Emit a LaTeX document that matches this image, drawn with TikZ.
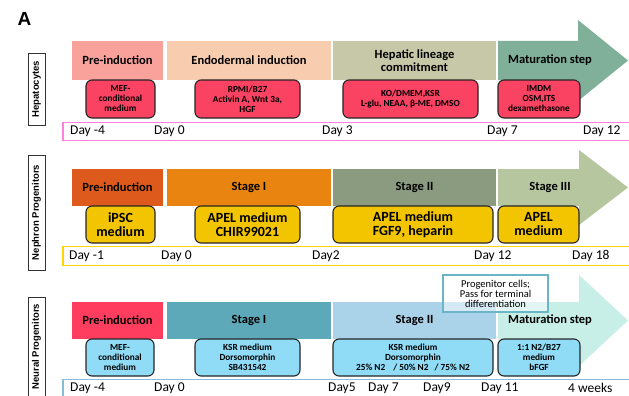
\documentclass[tikz,border=0pt]{standalone}
\usepackage{fontspec}
\setmainfont{Carlito}
\newfontfamily\arialf{Liberation Sans}
\definecolor{hA}{HTML}{F9A19B}
\definecolor{hB}{HTML}{F8CCAE}
\definecolor{hC}{HTML}{C7C8A8}
\definecolor{hD}{HTML}{80B09A}
\definecolor{hbox}{HTML}{FA4262}
\definecolor{hline}{HTML}{FF80DF}
\definecolor{nA}{HTML}{DE5A1C}
\definecolor{nB}{HTML}{E8840F}
\definecolor{nC}{HTML}{8B9B80}
\definecolor{nD}{HTML}{B6C69E}
\definecolor{nbox}{HTML}{F2C500}
\definecolor{nline}{HTML}{F8D800}
\definecolor{rA}{HTML}{FF3E5F}
\definecolor{rB}{HTML}{5DA8B9}
\definecolor{rC}{HTML}{AAD3E9}
\definecolor{rD}{HTML}{C8EEE8}
\definecolor{rbox}{HTML}{90DCF6}
\definecolor{rline}{HTML}{86BED6}
\definecolor{prog}{HTML}{6AB5C6}
\begin{document}
\begin{tikzpicture}[x=1pt,y=-1pt,
  bar/.style={inner sep=0pt, outer sep=0pt, align=center, font=\fontsize{12.5}{13.5}\selectfont\bfseries},
  medbox/.style={draw=black!85, line width=1.1pt, rounded corners=6pt, inner sep=0pt, align=center},
  smalltxt/.style={font=\fontsize{9.3}{10}\selectfont\bfseries},
  bigtxt/.style={font=\fontsize{14}{14}\selectfont\bfseries},
  day/.style={anchor=west, inner sep=0pt, font=\fontsize{13.5}{14}\selectfont},
  sidetxt/.style={rotate=90, inner sep=0pt, font=\arialf\fontsize{9.5}{10}\selectfont\bfseries},
  side/.style={sidetxt, draw=black!80, line width=0.8pt, minimum height=17pt},
  tline/.style={line width=1.6pt},
]
\useasboundingbox (0,0) rectangle (629,396);
\clip (0,0) rectangle (629,396);
\fill[white] (0,0) rectangle (629,396);

\node[font=\arialf\fontsize{19}{19}\selectfont\bfseries, anchor=north west, inner sep=0pt] (lblA) at (17.5,12) {A};

% ---------------- Row 1: Hepatocytes ----------------
\node[side, minimum width=72pt] (s1) at (36.5,89) {Hepatocytes};
\node[bar, fill=hA, minimum width=91pt, minimum height=39pt] (h1) at (117.5,60.5) {Pre-induction};
\node[bar, fill=hB, minimum width=164pt, minimum height=39pt] (h2) at (249,60.5) {Endodermal induction};
\node[bar, fill=hC, minimum width=163pt, minimum height=39pt] (h3) at (414.5,60.5) {Hepatic lineage\\commitment};
\fill[hD] (498,41) -- (578,41) -- (578,20) -- (628,60.5) -- (578,101) -- (578,80) -- (498,80) -- cycle;
\node[bar] (h4) at (550,60.5) {Maturation step};

\node[medbox, smalltxt, fill=hbox, minimum width=69pt, minimum height=38pt] (hb1) at (120.5,99) {MEF-\\conditional\\medium};
\node[medbox, smalltxt, fill=hbox, minimum width=105pt, minimum height=38pt] (hb2) at (247.5,99) {RPMI/B27\\Activin A, Wnt 3a,\\HGF};
\node[medbox, smalltxt, fill=hbox, minimum width=135pt, minimum height=38pt] (hb3) at (410.5,99) {KO/DMEM,KSR\\L-glu, NEAA, β-ME, DMSO};
\node[medbox, smalltxt, fill=hbox, minimum width=82pt, minimum height=38pt] (hb4) at (539,99) {IMDM\\OSM,ITS\\dexamethasone};

\draw[tline, hline] (63,122.5) rectangle (660,140.5);
\node[day] (hd1) at (70,131.5) {Day -4};
\node[day] (hd2) at (154,131.5) {Day 0};
\node[day] (hd3) at (322,131.5) {Day 3};
\node[day] (hd4) at (487,131.5) {Day 7};
\node[day] (hd5) at (583,131.5) {Day 12};

% ---------------- Row 2: Nephron Progenitors ----------------
\node[side, minimum width=115pt] (s2) at (36.5,212.5) {Nephron Progenitors};
\node[bar, fill=nA, minimum width=91pt, minimum height=37pt] (n1) at (117.5,187.5) {Pre-induction};
\node[bar, fill=nB, minimum width=164pt, minimum height=37pt] (n2) at (249,187.5) {Stage I};
\node[bar, fill=nC, minimum width=163pt, minimum height=37pt] (n3) at (414.5,187.5) {Stage II};
\fill[nD] (498,169) -- (579,169) -- (579,150) -- (628,187.5) -- (579,225) -- (579,206) -- (498,206) -- cycle;
\node[bar] (n4) at (550,187.5) {Stage III};

\node[medbox, bigtxt, fill=nbox, minimum width=69pt, minimum height=37pt] (nb1) at (120.5,224.5) {iPSC\\medium};
\node[medbox, bigtxt, fill=nbox, minimum width=105pt, minimum height=37pt] (nb2) at (247.5,224.5) {APEL medium\\CHIR99021};
\node[medbox, bigtxt, fill=nbox, minimum width=160pt, minimum height=37pt] (nb3) at (413,224.5) {APEL medium\\FGF9, heparin};
\node[medbox, bigtxt, fill=nbox, minimum width=81pt, minimum height=37pt] (nb4) at (538.5,224.5) {APEL\\medium};

\draw[tline, nline] (63,246.5) rectangle (660,265.5);
\node[day] (nd1) at (69,256) {Day -1};
\node[day] (nd2) at (161,256) {Day 0};
\node[day] (nd3) at (312,256) {Day2};
\node[day] (nd4) at (474,256) {Day 12};
\node[day] (nd5) at (572,256) {Day 18};

% ---------------- Row 3: Neural Progenitors ----------------
\draw[draw=black!80, line width=0.8pt] (28,297) rectangle (45,420);
\node[sidetxt] (s3) at (36.5,346.5) {Neural Progenitors};
\node[bar, fill=rA, minimum width=91pt, minimum height=37pt] (r1) at (117.5,320.5) {Pre-induction};
\node[bar, fill=rB, minimum width=164pt, minimum height=37pt] (r2) at (249,320.5) {Stage I};
\node[bar, fill=rC, minimum width=163pt, minimum height=37pt] (r3) at (414.5,320.5) {Stage II};
\fill[rD] (498,302) -- (579,302) -- (579,275) -- (628,320.5) -- (579,366) -- (579,339) -- (498,339) -- cycle;
\node[bar] (r4) at (550,320.5) {Maturation step};

\node[draw=prog, line width=1.1pt, fill=white, fill opacity=0.5, text opacity=1, inner sep=0pt, minimum width=105pt, minimum height=37pt, align=center, font=\fontsize{10.5}{10}\selectfont] (pc) at (495.5,293.5) {Progenitor cells;\\Pass for terminal\\differentiation};

\node[medbox, smalltxt, fill=rbox, minimum width=68pt, minimum height=37pt] (rb1) at (120,357.5) {MEF-\\conditional\\medium};
\node[medbox, smalltxt, fill=rbox, minimum width=105pt, minimum height=37pt] (rb2) at (247.5,357.5) {KSR medium\\Dorsomorphin\\SB431542};
\node[medbox, smalltxt, fill=rbox, minimum width=160pt, minimum height=37pt] (rb3) at (413,357.5) {KSR medium\\Dorsomorphin\\25\% N2\hspace{8pt}/ 50\% N2\hspace{6pt}/ 75\% N2};
\node[medbox, smalltxt, fill=rbox, minimum width=82pt, minimum height=37pt] (rb4) at (539,357.5) {1:1 N2/B27\\medium\\bFGF};

\draw[tline, rline] (63,379.5) rectangle (660,410);
\node[day] (rd1) at (70,388) {Day -4};
\node[day] (rd2) at (154,388) {Day 0};
\node[day] (rd3) at (328,388) {Day5};
\node[day] (rd4) at (368,388) {Day 7};
\node[day] (rd5) at (423,388) {Day9};
\node[day] (rd6) at (481,388) {Day 11};
\node[day] (rd7) at (568,388) {4 weeks};
\end{tikzpicture}
\end{document}
